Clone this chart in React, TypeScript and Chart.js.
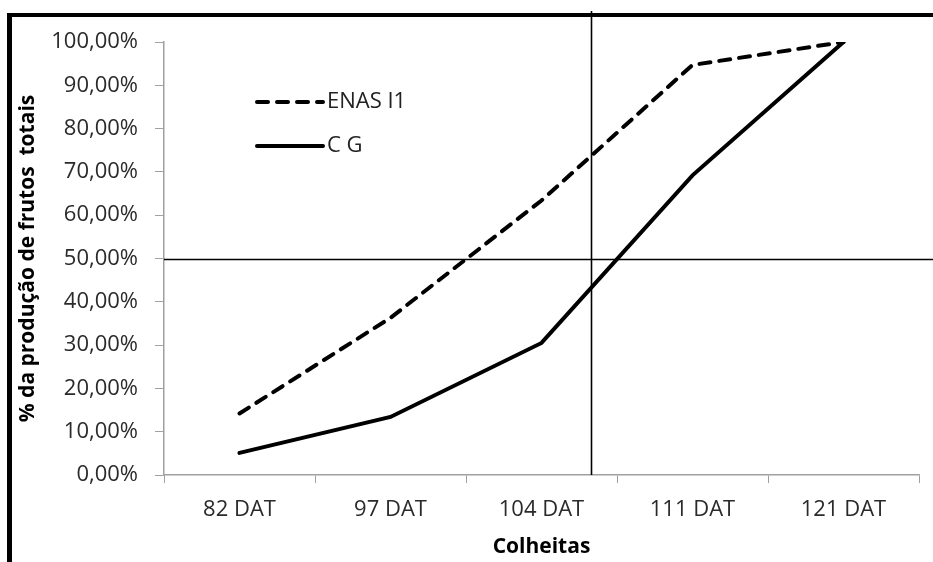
import React, { useEffect, useRef } from "react";
import { Chart, registerables } from "chart.js";

Chart.register(...registerables);

const categories = ["82 DAT", "97 DAT", "104 DAT", "111 DAT", "121 DAT"];
const enasValues = [14.2, 36.3, 63.4, 94.7, 100];
const cgValues = [5.1, 13.4, 30.5, 69.2, 100];
const seriesNames = ["ENAS I1", "C G"];
const yTitle = "% da produção de frutos  totais";
const xTitle = "Colheitas";
const refY = 50;
const refXIndex = 2.33;

const FONT = "'Open Sans', sans-serif";

const framePlugin = {
  id: "frame",
  afterDraw(chart: any) {
    const ctx = chart.ctx;
    ctx.save();
    ctx.fillStyle = "#000";
    ctx.fillRect(7, 13, chart.width - 7, 4);
    ctx.fillRect(7, 13, 5, chart.height - 13);
    ctx.restore();
  },
};

const refLinesPlugin = {
  id: "refLines",
  afterDraw(chart: any) {
    const ctx = chart.ctx;
    const x = chart.scales.x;
    const y = chart.scales.y;
    const area = chart.chartArea;
    ctx.save();
    ctx.strokeStyle = "#000";
    ctx.lineWidth = 1.6;
    const yy = Math.round(y.getPixelForValue(refY)) + 0.5;
    ctx.beginPath();
    ctx.moveTo(area.left, yy);
    ctx.lineTo(chart.width, yy);
    ctx.stroke();
    const xx = Math.round(x.getPixelForValue(refXIndex)) + 0.5;
    ctx.beginPath();
    ctx.moveTo(xx, 11);
    ctx.lineTo(xx, area.bottom);
    ctx.stroke();
    ctx.restore();
  },
};

const legendPlugin = {
  id: "customLegend",
  afterDraw(chart: any) {
    const ctx = chart.ctx;
    ctx.save();
    chart.data.datasets.forEach((ds: any, i: number) => {
      const yy = 102 + i * 44;
      ctx.strokeStyle = ds.borderColor;
      ctx.lineWidth = ds.borderWidth;
      ctx.lineCap = ds.borderCapStyle || "butt";
      ctx.setLineDash(ds.borderDash || []);
      ctx.beginPath();
      ctx.moveTo(257, yy);
      ctx.lineTo(323, yy);
      ctx.stroke();
      ctx.setLineDash([]);
      ctx.fillStyle = "#222";
      ctx.font = `22px ${FONT}`;
      ctx.textBaseline = "middle";
      ctx.textAlign = "left";
      ctx.fillText(ds.label, 327, yy);
    });
    ctx.restore();
  },
};

export default function App() {
  const ref = useRef<HTMLCanvasElement>(null);
  useEffect(() => {
    if (!ref.current) return;
    const chart = new Chart(ref.current, {
      type: "line",
      data: {
        labels: categories,
        datasets: [
          {
            label: seriesNames[0],
            data: enasValues,
            borderColor: "#000",
            borderWidth: 4,
            borderDash: [11, 9],
            borderCapStyle: "round",
            pointRadius: 0,
            tension: 0,
            fill: false,
          },
          {
            label: seriesNames[1],
            data: cgValues,
            borderColor: "#000",
            borderWidth: 4,
            borderCapStyle: "round",
            pointRadius: 0,
            tension: 0,
            fill: false,
          },
        ],
      },
      options: {
        animation: false,
        responsive: false,
        devicePixelRatio: 1,
        layout: { padding: { top: 42, right: 14, left: 0, bottom: 0 } },
        plugins: {
          legend: { display: false },
          tooltip: { enabled: false },
        },
        scales: {
          x: {
            type: "category",
            offset: true,
            afterFit(scale: any) {
              scale.height = 87;
            },
            grid: {
              offset: true,
              drawOnChartArea: false,
              drawTicks: true,
              tickLength: 8,
              color: "#a0a0a0",
            },
            border: { display: true, color: "#a0a0a0", width: 1.5 },
            ticks: {
              color: "#2a2a2a",
              font: { family: FONT, size: 22 },
              padding: 14,
              maxRotation: 0,
            },
            title: {
              display: true,
              text: xTitle,
              color: "#000",
              font: { family: FONT, size: 21, weight: "bold" },
              padding: { top: 0, bottom: 2 },
            },
          },
          y: {
            min: 0,
            max: 100,
            afterFit(scale: any) {
              scale.width = 164;
            },
            grid: {
              drawOnChartArea: false,
              drawTicks: true,
              tickLength: 9,
              color: "#a0a0a0",
            },
            border: { display: true, color: "#a0a0a0", width: 1.5 },
            ticks: {
              stepSize: 10,
              color: "#2a2a2a",
              font: { family: FONT, size: 22 },
              padding: 17,
              callback: (v: any) => Number(v).toFixed(2).replace(".", ",") + "%",
            },
            title: {
              display: true,
              text: yTitle,
              color: "#000",
              font: { family: FONT, size: 21, weight: "bold" },
              padding: { top: 15, bottom: 0 },
            },
          },
        },
      },
      plugins: [framePlugin, refLinesPlugin, legendPlugin],
    });
    return () => chart.destroy();
  }, []);
  return (
    <div style={{ position: "absolute", left: 0, top: 0, width: 933, height: 562, background: "#fff" }}>
      <canvas ref={ref} width={933} height={562} />
    </div>
  );
}
